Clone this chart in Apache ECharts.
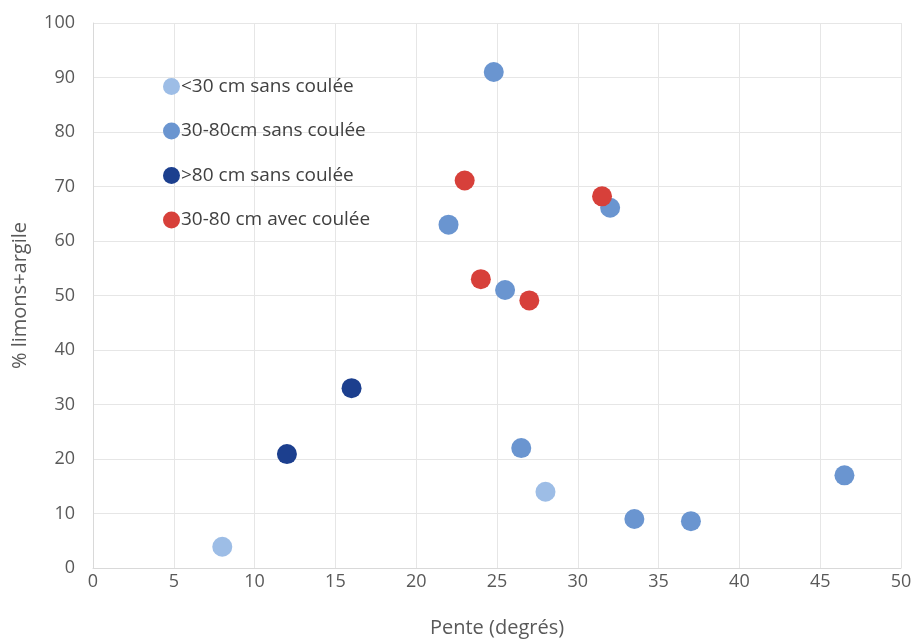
<!DOCTYPE html>
<html><head><meta charset="utf-8">
<script src="https://cdn.jsdelivr.net/npm/echarts@6/dist/echarts.min.js"></script>
<style>html,body{margin:0;padding:0;background:#fff}#c{width:914px;height:641px}</style>
</head><body><div id="c"></div>
<script>
const xTicks = [0,5,10,15,20,25,30,35,40,45,50];
const yTicks = [0,10,20,30,40,50,60,70,80,90,100];
const seriesNames = ['<30 cm sans coulée','30-80cm sans coulée','>80 cm sans coulée','30-80 cm avec coulée'];
const lt30 = [[8,3.9],[28,14]];
const mid = [[24.8,91],[22,63],[25.5,51],[32,66.1],[26.5,22],[33.5,9],[37,8.6],[46.5,17]];
const gt80 = [[12,20.9],[16,33]];
const avec = [[23,71.1],[24,53],[27,49.1],[31.5,68.2]];
const colors = ['#9dbde6','#6a95d0','#1c3f8e','#d7403a'];

const chart = echarts.init(document.getElementById('c'));
const font = "'Open Sans', sans-serif";
const dataSets = [lt30, mid, gt80, avec];
chart.setOption({
  animation:false,
  textStyle:{fontFamily:font},
  grid:{left:93,right:13,top:23,bottom:73,containLabel:false,outerBoundsMode:'none'},
  legend:{
    orient:'vertical', left:158, top:72, itemGap:25.5,
    itemWidth:17, itemHeight:17, icon:'circle',
    textStyle:{fontSize:19,color:'#404040',fontFamily:font, padding:[0,0,0,-4]},
    data:seriesNames
  },
  xAxis:{
    type:'value', min:xTicks[0], max:xTicks[xTicks.length-1], interval:5,
    name:'Pente (degrés)', nameLocation:'middle', nameGap:50,
    nameTextStyle:{fontSize:20,color:'#595959',fontFamily:font},
    axisLine:{show:true,lineStyle:{color:'#d9d9d9'}},
    axisTick:{show:false},
    axisLabel:{fontSize:18,color:'#595959',margin:5},
    splitLine:{show:true,lineStyle:{color:'#e6e6e6'}}
  },
  yAxis:{
    type:'value', min:yTicks[0], max:yTicks[yTicks.length-1], interval:10,
    name:'% limons+argile', nameLocation:'middle', nameGap:63,
    nameTextStyle:{fontSize:20,color:'#595959',fontFamily:font},
    axisLine:{show:true,lineStyle:{color:'#d9d9d9'}},
    axisTick:{show:false},
    axisLabel:{fontSize:18,color:'#595959',margin:18},
    splitLine:{show:true,lineStyle:{color:'#e6e6e6'}}
  },
  series: seriesNames.map((n,i)=>({
    name:n, type:'scatter', symbolSize:20,
    itemStyle:{color:colors[i],opacity:1},
    data:dataSets[i]
  }))
});
</script></body></html>
